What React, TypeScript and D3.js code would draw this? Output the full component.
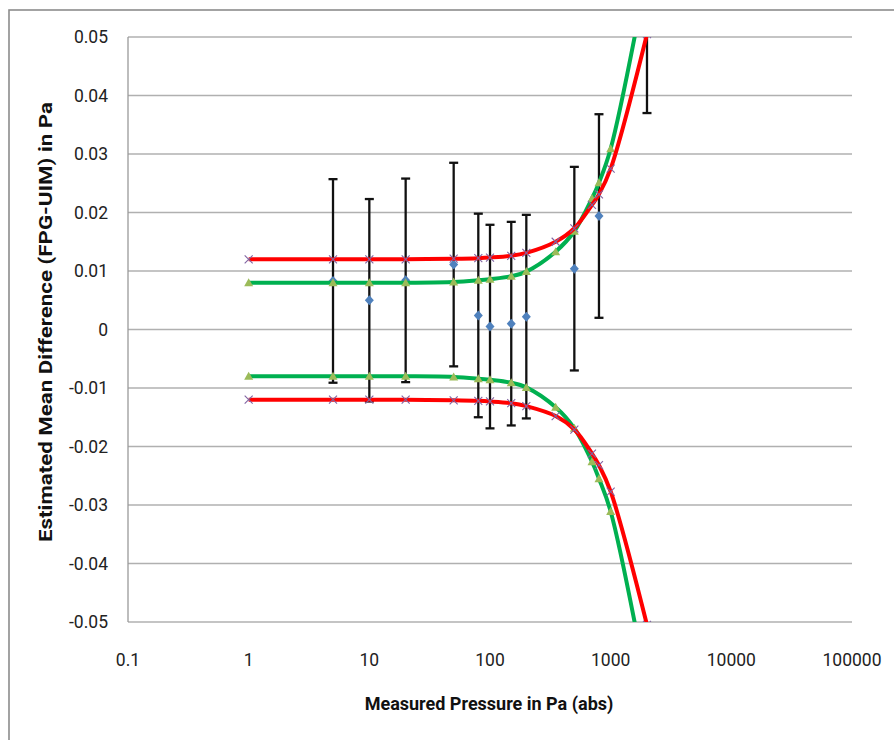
import React, { useEffect, useRef } from 'react';
import * as d3 from 'd3';

// measured points with error bars
const pressures = [5, 10, 20, 50, 80, 100, 150, 200, 500, 800, 2000];
const meanDiff = [0.0083, 0.005, 0.0084, 0.0111, 0.0024, 0.0005, 0.001, 0.0022, 0.0104, 0.0194, 0.0544];
const errHalf = [0.0174, 0.0173, 0.0174, 0.0174, 0.0174, 0.0174, 0.0174, 0.0174, 0.0174, 0.0174, 0.0174];

// limit curves
const limitPressures = [1, 5, 10, 20, 50, 80, 100, 150, 200, 350, 500, 700, 800, 1000, 2000];
const greenUpper = [0.008, 0.008, 0.008, 0.008, 0.0081, 0.0084, 0.0086, 0.0091, 0.0099, 0.0133, 0.0168, 0.0224, 0.0251, 0.0309, 0.061];
const greenLower = [-0.008, -0.008, -0.008, -0.008, -0.0081, -0.0084, -0.0086, -0.0091, -0.0099, -0.0133, -0.0169, -0.0226, -0.0255, -0.0311, -0.061];
const redUpper = [0.012, 0.012, 0.012, 0.012, 0.0121, 0.0122, 0.0123, 0.0126, 0.0131, 0.015, 0.0173, 0.0213, 0.0231, 0.0275, 0.0505];
const redLower = [-0.012, -0.012, -0.012, -0.012, -0.0121, -0.0122, -0.0123, -0.0126, -0.0131, -0.0148, -0.0171, -0.0212, -0.0232, -0.0277, -0.0505];

const xTicks = [0.1, 1, 10, 100, 1000, 10000, 100000];
const xTickLabels = ['0.1', '1', '10', '100', '1000', '10000', '100000'];
const yTicks = [0.05, 0.04, 0.03, 0.02, 0.01, 0, -0.01, -0.02, -0.03, -0.04, -0.05];
const yTickLabels = ['0.05', '0.04', '0.03', '0.02', '0.01', '0', '-0.01', '-0.02', '-0.03', '-0.04', '-0.05'];

const W = 894;
const H = 740;
const FONT = 'Roboto, "Liberation Sans", sans-serif';

const App: React.FC = () => {
    const ref = useRef<SVGSVGElement>(null);

    useEffect(() => {
        document.body.style.margin = '0';
        const svg = d3.select(ref.current);
        svg.selectAll('*').remove();

        const left = 128, right = 852, top = 37, bottom = 622;
        const x = d3.scaleLog().domain([0.1, 100000]).range([left, right]);
        const y = d3.scaleLinear().domain([-0.05, 0.05]).range([bottom, top]);

        svg.append('rect')
            .attr('width', W).attr('height', H).attr('fill', '#fff');

        // chart area border (runs off the right/bottom edge)
        svg.append('rect')
            .attr('x', 9).attr('y', 10)
            .attr('width', W + 20).attr('height', H + 20)
            .attr('fill', 'none')
            .attr('stroke', '#8c8c8c')
            .attr('stroke-width', 1.6);

        svg.append('defs').append('clipPath').attr('id', 'plotclip')
            .append('rect')
            .attr('x', left).attr('y', top)
            .attr('width', right - left).attr('height', bottom - top);

        // gridlines
        svg.append('g').selectAll('line')
            .data(yTicks)
            .enter()
            .append('line')
            .attr('x1', left).attr('x2', right)
            .attr('y1', d => y(d)).attr('y2', d => y(d))
            .attr('stroke', '#b0b0b0')
            .attr('stroke-width', 1.3);

        svg.append('line')
            .attr('x1', left).attr('x2', left)
            .attr('y1', top).attr('y2', bottom)
            .attr('stroke', '#9a9a9a')
            .attr('stroke-width', 1.3);

        // tick labels
        svg.append('g').selectAll('text')
            .data(yTicks)
            .enter()
            .append('text')
            .attr('x', 108)
            .attr('y', d => y(d))
            .attr('dy', '0.36em')
            .attr('text-anchor', 'end')
            .style('font-family', FONT)
            .style('font-size', '17.5px')
            .attr('fill', '#222')
            .text((_, i) => yTickLabels[i]);

        svg.append('g').selectAll('text')
            .data(xTicks)
            .enter()
            .append('text')
            .attr('x', d => x(d))
            .attr('y', 666)
            .attr('text-anchor', 'middle')
            .style('font-family', FONT)
            .style('font-size', '17.5px')
            .attr('fill', '#222')
            .text((_, i) => xTickLabels[i]);

        // axis titles
        svg.append('text')
            .attr('x', 489)
            .attr('y', 710)
            .attr('text-anchor', 'middle')
            .style('font-family', FONT)
            .style('font-size', '18px')
            .style('font-weight', 'bold')
            .attr('fill', '#111')
            .text('Measured Pressure in Pa (abs)');

        svg.append('text')
            .attr('transform', 'translate(52, 322) rotate(-90)')
            .attr('text-anchor', 'middle')
            .attr('textLength', 440)
            .attr('lengthAdjust', 'spacingAndGlyphs')
            .style('font-family', FONT)
            .style('font-size', '19px')
            .style('font-weight', 'bold')
            .attr('fill', '#111')
            .text('Estimated Mean Difference (FPG-UIM) in Pa');

        const plot = svg.append('g').attr('clip-path', 'url(#plotclip)');

        // error bars
        const eb = plot.append('g')
            .attr('stroke', '#111')
            .attr('stroke-width', 2.3);
        pressures.forEach((p, i) => {
            const cx = x(p);
            const hi = y(meanDiff[i] + errHalf[i]);
            const lo = y(meanDiff[i] - errHalf[i]);
            eb.append('line').attr('x1', cx).attr('x2', cx).attr('y1', hi).attr('y2', lo);
            eb.append('line').attr('x1', cx - 4.5).attr('x2', cx + 4.5).attr('y1', hi).attr('y2', hi);
            eb.append('line').attr('x1', cx - 4.5).attr('x2', cx + 4.5).attr('y1', lo).attr('y2', lo);
        });

        plot.append('g').selectAll('path')
            .data(pressures)
            .enter()
            .append('path')
            .attr('d', 'M0,-5L4.5,0L0,5L-4.5,0Z')
            .attr('transform', (d, i) => `translate(${x(d)},${y(meanDiff[i])})`)
            .attr('fill', '#4f81bd');

        const line = d3.line<number>()
            .x((_, i) => x(limitPressures[i]))
            .y(d => y(d))
            .curve(d3.curveCatmullRom.alpha(0.5));

        const drawSeries = (vals: number[], color: string, marker: 'tri' | 'x') => {
            plot.append('path')
                .datum(vals)
                .attr('d', line)
                .attr('fill', 'none')
                .attr('stroke', color)
                .attr('stroke-width', 4)
                .attr('stroke-linejoin', 'round');
            const m = plot.append('g').selectAll('path')
                .data(vals)
                .enter()
                .append('path')
                .attr('transform', (d, i) => `translate(${x(limitPressures[i])},${y(d)})`);
            if (marker === 'tri') {
                m.attr('d', 'M0,-4.5L4.5,3.5L-4.5,3.5Z').attr('fill', '#9bbb59');
            } else {
                m.attr('d', 'M-4,-4L4,4M-4,4L4,-4')
                    .attr('fill', 'none')
                    .attr('stroke', '#8064a2')
                    .attr('stroke-width', 1.1);
            }
        };

        drawSeries(greenUpper, '#00b050', 'tri');
        drawSeries(greenLower, '#00b050', 'tri');
        drawSeries(redUpper, '#ff0000', 'x');
        drawSeries(redLower, '#ff0000', 'x');
    }, []);

    return <svg ref={ref} width={W} height={H} style={{ display: 'block' }} />;
};

export default App;
